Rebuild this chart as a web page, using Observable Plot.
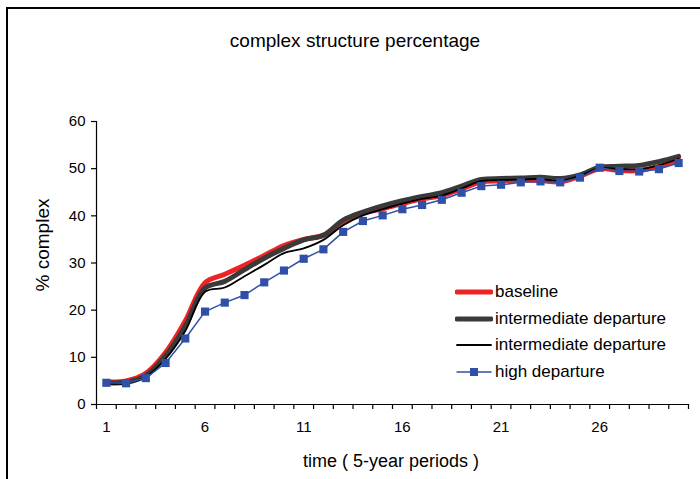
<!DOCTYPE html>
<html>
<head>
<meta charset="utf-8">
<script src="https://cdn.jsdelivr.net/npm/d3@7"></script>
<script src="https://cdn.jsdelivr.net/npm/@observablehq/plot@0.6"></script>
<style>
  html, body { margin: 0; padding: 0; background: #fff; overflow: hidden; }
  #wrap { position: relative; width: 700px; height: 479px; font-family: "Liberation Sans", Arial, sans-serif; color: #000; }
  #frame { position: absolute; left: 6px; top: 7px; width: 800px; height: 600px; border: 2px solid #000; box-sizing: border-box; }
  .lbl { position: absolute; white-space: nowrap; line-height: 1; }
  #title { left: 355px; top: 40px; transform: translate(-50%, -50%); font-size: 19px; }
  #xlabel { left: 391px; top: 461px; transform: translate(-50%, -50%); font-size: 18px; }
  #ylabel { left: 42px; top: 245px; transform: translate(-50%, -50%) rotate(-90deg); font-size: 19px; }
  #legend { position: absolute; left: 455px; top: 279px; font-size: 17px; }
  .row { display: flex; align-items: center; height: 26.6px; }
  .row svg { margin-right: 2px; }
  #chart { position: absolute; left: 0; top: 0; }
</style>
</head>
<body>
<div id="wrap">
  <div id="frame"></div>
  <div id="chart"></div>
  <div class="lbl" id="title">complex structure percentage</div>
  <div class="lbl" id="xlabel">time ( 5-year periods )</div>
  <div class="lbl" id="ylabel">% complex</div>
  <div id="legend"></div>
</div>
<script>
const periods = [1,2,3,4,5,6,7,8,9,10,11,12,13,14,15,16,17,18,19,20,21,22,23,24,25,26,27,28,29,30];
const baseline = [4.8,5.0,6.6,11.0,17.7,25.8,27.6,29.5,31.6,33.7,35.0,35.9,38.6,40.5,41.5,42.6,43.6,44.3,45.7,47.2,47.4,47.6,47.5,47.2,48.4,50.0,49.6,49.6,50.5,51.9];
const intermediateThick = [4.6,4.7,6.1,10.3,16.6,24.7,26.1,28.6,31.0,33.1,34.9,35.9,39.1,40.8,42.1,43.2,44.1,44.9,46.3,47.7,47.9,48.0,48.2,47.9,48.7,50.3,50.5,50.7,51.5,52.6];
const intermediateThin = [4.5,4.5,5.9,9.7,15.6,23.9,24.8,27.2,29.6,32.1,33.1,34.9,38.0,40.1,41.4,42.6,43.6,44.3,45.8,47.4,47.6,47.7,47.8,47.4,48.5,50.1,49.9,49.9,50.7,52.1];
const highDeparture = [4.6,4.5,5.6,8.8,14.0,19.7,21.6,23.2,25.9,28.4,30.9,32.9,36.6,38.9,40.1,41.4,42.3,43.4,44.9,46.3,46.6,47.1,47.3,47.1,48.1,50.2,49.5,49.4,49.9,51.2];
const seriesNames = ["baseline", "intermediate departure", "intermediate departure", "high departure"];
const yTicks = [0,10,20,30,40,50,60];
const xTickLabels = [1,6,11,16,21,26];

const styles = [
  {stroke: "#ee2424", strokeWidth: 5, curve: "catmull-rom", marker: false},
  {stroke: "#3a3a3a", strokeWidth: 5, curve: "catmull-rom", marker: false},
  {stroke: "#000000", strokeWidth: 1.8, curve: "catmull-rom", marker: false},
  {stroke: "#3050a8", strokeWidth: 1.5, curve: "linear", marker: true}
];
const allSeries = [baseline, intermediateThick, intermediateThin, highDeparture];

const xDomain = [periods[0] - 0.5, periods[periods.length - 1] + 0.5];
const boundaries = periods.map(p => p - 0.5).concat([periods[periods.length - 1] + 0.5]);

const marks = [];
allSeries.forEach((vals, i) => {
  const data = periods.map((p, j) => ({x: p, y: vals[j]}));
  const s = styles[i];
  marks.push(Plot.line(data, {x: "x", y: "y", stroke: s.stroke, strokeWidth: s.strokeWidth, curve: s.curve, strokeLinejoin: "round", strokeLinecap: "round"}));
  if (s.marker) {
    marks.push(Plot.dot(data, {x: "x", y: "y", symbol: "square", r: 4.6, fill: s.stroke, stroke: "none"}));
  }
});

const chart = Plot.plot({
  width: 700,
  height: 479,
  marginLeft: 96,
  marginRight: 12,
  marginTop: 121,
  marginBottom: 75,
  style: {fontFamily: "Liberation Sans, Arial, sans-serif", color: "#000", background: "transparent"},
  x: {type: "linear", domain: xDomain},
  y: {domain: [yTicks[0], yTicks[yTicks.length - 1]]},
  marks: [
    Plot.axisY({ticks: yTicks, tickSize: 5, tickPadding: 6, fontSize: 15, label: null, strokeWidth: 1.2}),
    Plot.axisX({ticks: boundaries, tickSize: 5, tickFormat: () => "", label: null, strokeWidth: 1.2}),
    Plot.axisX({ticks: xTickLabels, tickSize: 0, tickPadding: 17, fontSize: 15, label: null}),
    Plot.ruleX([xDomain[0]], {stroke: "#000", strokeWidth: 1.2}),
    Plot.ruleY([yTicks[0]], {stroke: "#000", strokeWidth: 1.2}),
    ...marks
  ]
});
document.getElementById("chart").appendChild(chart);

const legend = document.getElementById("legend");
seriesNames.forEach((name, i) => {
  const s = styles[i];
  const row = document.createElement("div");
  row.className = "row";
  const ns = "http://www.w3.org/2000/svg";
  const svg = document.createElementNS(ns, "svg");
  svg.setAttribute("width", 38);
  svg.setAttribute("height", 12);
  const line = document.createElementNS(ns, "line");
  line.setAttribute("x1", 2); line.setAttribute("x2", 36);
  line.setAttribute("y1", 6); line.setAttribute("y2", 6);
  line.setAttribute("stroke", s.stroke);
  line.setAttribute("stroke-width", s.strokeWidth);
  line.setAttribute("stroke-linecap", "round");
  svg.appendChild(line);
  if (s.marker) {
    const r = document.createElementNS(ns, "rect");
    r.setAttribute("x", 15); r.setAttribute("y", 2);
    r.setAttribute("width", 8); r.setAttribute("height", 8);
    r.setAttribute("fill", s.stroke);
    svg.appendChild(r);
  }
  row.appendChild(svg);
  const t = document.createElement("span");
  t.textContent = name;
  row.appendChild(t);
  legend.appendChild(row);
});
</script>
</body>
</html>
